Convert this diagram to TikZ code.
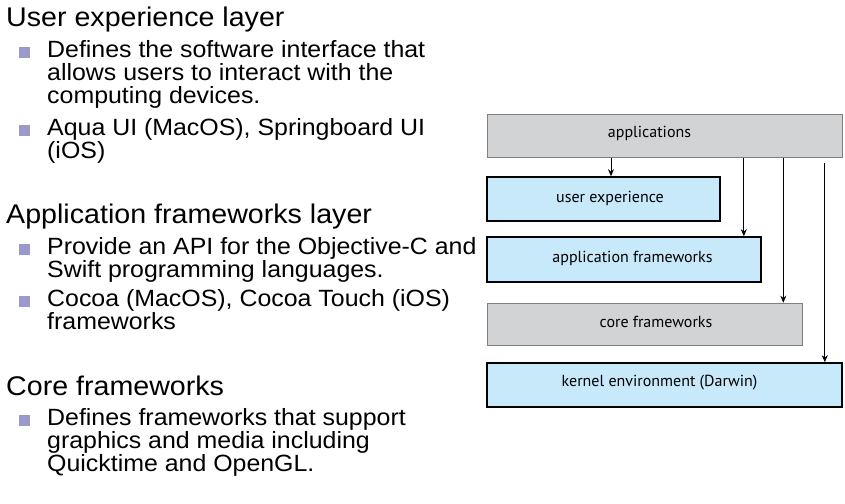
\documentclass[tikz,border=0pt]{standalone}
\usepackage{fontspec}
\setmainfont{Liberation Sans}[FakeStretch=1.06]
\newfontfamily\figfont{PT Sans}
\usetikzlibrary{arrows.meta,positioning}

\definecolor{boxgray}{HTML}{D1D3D4}
\definecolor{boxblue}{HTML}{C8E9FA}
\definecolor{bulletblue}{HTML}{9999CC}

\begin{document}
\begin{tikzpicture}[%
    x=1pt, y=-1pt,
    >={Stealth[length=7pt,width=6pt]},
    head/.style={anchor=base west, inner sep=0pt, font=\fontsize{27}{29}\selectfont},
    item/.style={anchor=base west, inner sep=0pt, align=left, font=\fontsize{23.5}{23}\selectfont},
    sq/.style={fill=bulletblue, minimum size=11pt, inner sep=0pt},
    every label/.style={font=\figfont\fontsize{16}{18}\selectfont},
    layer/.style={minimum height=44pt, inner sep=0pt},
    graylayer/.style={layer, fill=boxgray, draw=gray, line width=0.6pt},
    bluelayer/.style={layer, fill=boxblue, draw=black, line width=1.6pt},
    call/.style={->, line width=0.8pt}
    ]

    \useasboundingbox (0,0) rectangle (845,503);

    % left column (base = last line)
    \node[head] (h1) at (6,27) {User experience layer};
    \node[sq] (b1) at (24.5,52.5) {};
    \node[item] (t1) at (47,103) {Defines the software interface that\\allows users to interact with the\\computing devices.};
    \node[sq] (b2) at (24.5,130.5) {};
    \node[item] (t2) at (47,158) {Aqua UI (MacOS), Springboard UI\\(iOS)};

    \node[head] (h2) at (6,223) {Application frameworks layer};
    \node[sq] (b3) at (24.5,249.5) {};
    \node[item] (t3) at (47,277) {Provide an API for the Objective-C and\\Swift programming languages.};
    \node[sq] (b4) at (24.5,301.5) {};
    \node[item] (t4) at (47,329) {Cocoa (MacOS), Cocoa Touch (iOS)\\frameworks};

    \node[head] (h3) at (6,395) {Core frameworks};
    \node[sq] (b5) at (24.5,420.5) {};
    \node[item] (t5) at (47,471) {Defines frameworks that support\\graphics and media including\\Quicktime and OpenGL.};

    % layers
    \node[graylayer, minimum width=355pt, minimum height=43pt,
        label={[xshift=-15pt, yshift=2pt]center:applications}] (apps) at (664.5,135.5) {};
    \node[bluelayer, minimum width=233pt,
        label={[xshift=6.5pt, yshift=1pt]center:user experience}] (ux) at (603.5,199) {};
    \node[bluelayer, minimum width=274pt, minimum height=45pt,
        label={[xshift=8.5pt, yshift=1pt]center:application frameworks}] (appfw) at (624,259.5) {};
    \node[graylayer, minimum width=315pt, minimum height=42pt,
        label={[xshift=11.5pt, yshift=2pt]center:core frameworks}] (core) at (644.5,324) {};
    \node[bluelayer, minimum width=355pt,
        label={[xshift=-5pt, yshift=2pt]center:kernel environment (Darwin)}] (kernel) at (664.5,385) {};

    \draw[call, shorten <=1pt] ([xshift=7.5pt]ux.north |- apps.south) -- ([xshift=7.5pt]ux.north);
    \draw[call, shorten <=1pt] ([xshift=-18pt]appfw.north east |- apps.south) -- ([xshift=-18pt]appfw.north east);
    \draw[call, shorten <=1pt] ([xshift=-19pt]core.north east |- apps.south) -- ([xshift=-19pt]core.north east);
    \draw[call, shorten <=6pt] ([xshift=-18pt]kernel.north east |- apps.south) -- ([xshift=-18pt]kernel.north east);

\end{tikzpicture}
\end{document}
